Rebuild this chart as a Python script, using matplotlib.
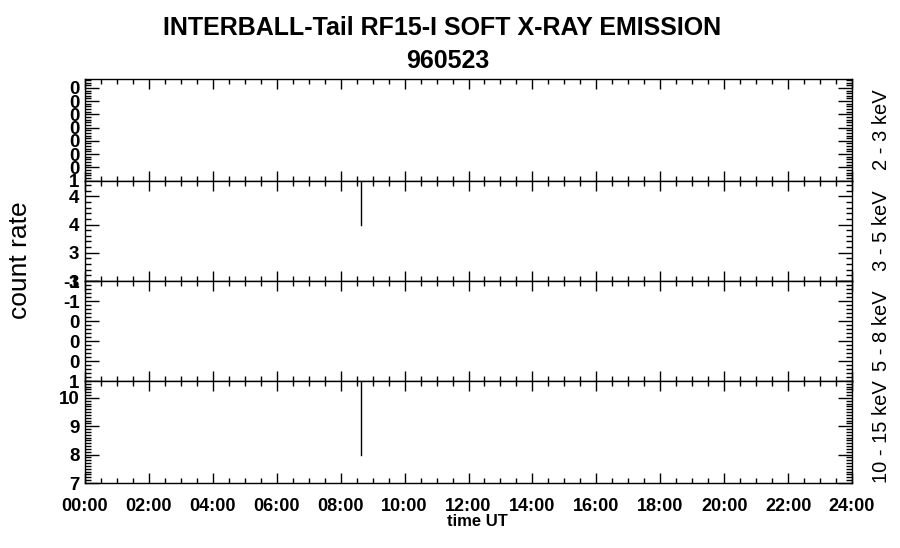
import numpy as np
import matplotlib
matplotlib.use('Agg')
import matplotlib.pyplot as plt
from matplotlib.ticker import FixedLocator, MultipleLocator, FixedFormatter

plt.rcParams['font.family'] = ['Liberation Sans', 'DejaVu Sans']

title = 'INTERBALL-Tail RF15-I SOFT X-RAY EMISSION'
date_str = '960523'
bands = ['2 - 3 keV', '3 - 5 keV', '5 - 8 keV', '10 - 15 keV']

# spike near 08:38 UT, goes off scale at the top
spike_t = [8.63, 8.63]
rate_2_3 = []
rate_3_5 = [4.0, 6.0]
rate_5_8 = []
rate_10_15 = [8.0, 12.0]

# y axis of each panel (bottom, top), major ticks, labels as printed
ylims = [(0.0, 7.67), (3.0, 4.78), (0.0, 5.0), (7.0, 10.6)]
yticks = [[0, 1, 2, 3, 4, 5, 6, 7],
          [3.0, 3.5, 4.0, 4.5],
          [0, 1, 2, 3, 4, 5],
          [7, 8, 9, 10]]
ylabels = [['1', '0', '0', '0', '0', '0', '0', '0'],
           ['3', '3', '4', '4'],
           ['1', '0', '0', '0', '-1', '-1'],
           ['7', '8', '9', '10']]
yminor = [0.2, 0.1, 0.2, 0.1]

hours = np.arange(0, 25, 2)
hour_labels = ['%02d:00' % h for h in hours]

fig = plt.figure(figsize=(9, 5.48), dpi=100)
W, H = 900.0, 548.0
x0, x1 = 85, 852
edges = [79, 180.5, 281, 381, 483]
series = [rate_2_3, rate_3_5, rate_5_8, rate_10_15]

axes = []
for i in range(4):
    top, bot = edges[i], edges[i + 1]
    ax = fig.add_axes([x0 / W, 1 - bot / H, (x1 - x0) / W, (bot - top) / H])
    if len(series[i]):
        ax.plot(spike_t, series[i], color='black', lw=1)
    ax.set_xlim(0, 24)
    ax.set_ylim(*ylims[i])
    ax.xaxis.set_major_locator(FixedLocator(hours))
    ax.xaxis.set_minor_locator(MultipleLocator(0.5))
    ax.yaxis.set_major_locator(FixedLocator(yticks[i]))
    ax.yaxis.set_major_formatter(FixedFormatter(ylabels[i]))
    ax.yaxis.set_minor_locator(MultipleLocator(yminor[i]))
    ax.tick_params(axis='both', which='both', direction='in', top=True, right=True, width=1)
    ax.tick_params(axis='x', which='major', length=7.5)
    ax.tick_params(axis='x', which='minor', length=3.5)
    ax.tick_params(axis='y', which='major', length=10)
    ax.tick_params(axis='y', which='minor', length=4)
    ax.tick_params(axis='y', labelsize=13.5, pad=4)
    for lab in ax.get_yticklabels():
        lab.set_fontweight('bold')
    if i < 3:
        ax.tick_params(axis='x', labelbottom=False)
    else:
        ax.set_xticklabels(hour_labels, fontsize=13, fontweight='bold')
        ax.tick_params(axis='x', pad=11)
    for s in ax.spines.values():
        s.set_linewidth(1)
    ax.text(1.038, 0.5, bands[i], transform=ax.transAxes, rotation=90,
            ha='center', va='center', fontsize=14.5)
    axes.append(ax)

fig.text(442 / W, 1 - 28 / H, title, ha='center', va='center', fontsize=18, fontweight='bold')
fig.text(448 / W, 1 - 61 / H, date_str, ha='center', va='center', fontsize=18, fontweight='bold')
fig.text(20 / W, 1 - 260 / H, 'count rate', rotation=90, ha='center', va='center', fontsize=19)
fig.text(477 / W, 1 - 522 / H, 'time UT', ha='center', va='center', fontsize=12, fontweight='bold')

fig.savefig('out.png', dpi=100)
